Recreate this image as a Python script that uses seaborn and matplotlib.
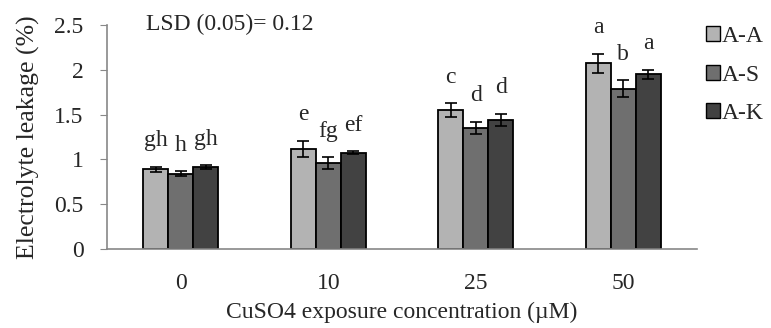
import matplotlib
matplotlib.use("Agg")
import matplotlib.pyplot as plt
import pandas as pd
import seaborn as sns

concentrations = ["0", "10", "25", "50"]
genotypes = ["A-A", "A-S", "A-K"]
leakage = {
    "A-A": [0.89, 1.12, 1.55, 2.07],
    "A-S": [0.84, 0.96, 1.35, 1.79],
    "A-K": [0.915, 1.075, 1.44, 1.95],
}
errors = {
    "A-A": [0.03, 0.09, 0.08, 0.11],
    "A-S": [0.03, 0.065, 0.07, 0.09],
    "A-K": [0.02, 0.02, 0.07, 0.05],
}
letters = {
    "A-A": ["gh", "e", "c", "a"],
    "A-S": ["h", "fg", "d", "b"],
    "A-K": ["gh", "ef", "d", "a"],
}
colors = ["#b3b3b3", "#6f6f6f", "#424242"]

rows = []
for g in genotypes:
    for c, v in zip(concentrations, leakage[g]):
        rows.append({"conc": c, "genotype": g, "leakage": v})
df = pd.DataFrame(rows)

sns.set_style("white")
plt.rcParams["font.family"] = ["Liberation Serif", "DejaVu Serif"]
FS = 17

fig = plt.figure(figsize=(7.71, 3.28), dpi=100)
ax = fig.add_axes([0.139, 0.241, 0.765, 0.683])

sns.barplot(
    data=df, x="conc", y="leakage", hue="genotype",
    order=concentrations, hue_order=genotypes, palette=colors,
    width=0.51, edgecolor="black", linewidth=1.3, errorbar=None,
    legend=False, ax=ax,
)

for g, cont in zip(genotypes, ax.containers):
    for i, bar in enumerate(cont):
        xc = bar.get_x() + bar.get_width() / 2
        top = leakage[g][i] + errors[g][i]
        ax.errorbar(xc, leakage[g][i], yerr=errors[g][i], fmt="none",
                    ecolor="black", elinewidth=1.2, capsize=4, capthick=1.2)
        ax.text(xc, top + 0.17, letters[g][i], ha="center", va="bottom",
                fontsize=17)

ax.set_ylim(0, 2.5)
ax.set_xlim(-0.5, 3.5)
ax.set_yticks([0, 0.5, 1, 1.5, 2, 2.5])
ax.set_yticklabels(["0", "0.5", "1", "1.5", "2", "2.5"])
ax.tick_params(axis="y", labelsize=FS, length=5, color="#888888",
               direction="out", left=True, pad=12)
ax.tick_params(axis="x", labelsize=FS, length=0, pad=17)
for s in ["top", "right"]:
    ax.spines[s].set_visible(False)
for s in ["left", "bottom"]:
    ax.spines[s].set_color("#888888")
    ax.spines[s].set_linewidth(1.2)

ax.set_xlabel("CuSO4 exposure concentration (\u00b5M)", fontsize=FS, labelpad=6)
ax.set_ylabel("Electrolyte leakage (%)", fontsize=18.5, labelpad=10)
ax.text(-0.24, 2.5, "LSD (0.05)= 0.12", ha="left", va="center", fontsize=FS)

handles = [plt.Rectangle((0, 0), 1, 1, facecolor=c, edgecolor="black",
                         linewidth=1) for c in colors]
fig.legend(handles, genotypes, loc="upper left", bbox_to_anchor=(0.903, 0.95),
           frameon=False, fontsize=FS, handlelength=0.6, handleheight=0.6,
           handletextpad=0.1, labelspacing=0.75, borderaxespad=0)

fig.savefig("out.png", dpi=100)
